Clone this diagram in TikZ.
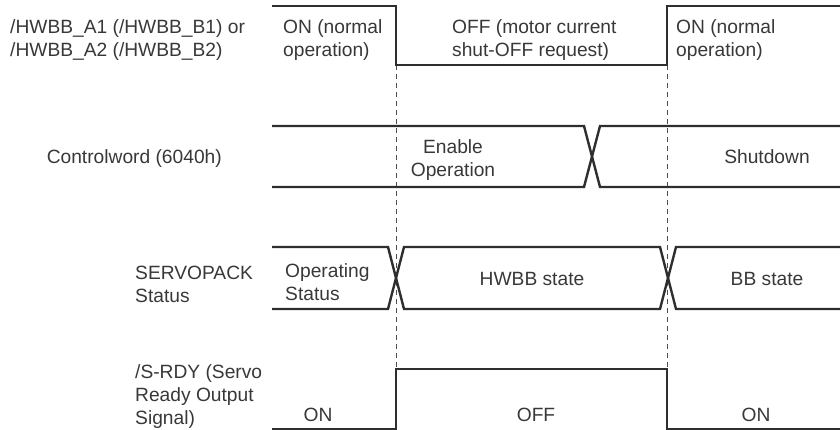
\documentclass[tikz,border=0pt]{standalone}
\usepackage{fontspec}
\setmainfont{Liberation Sans}
\definecolor{ink}{HTML}{2E2E2E}
\definecolor{txt}{HTML}{383838}
\begin{document}
\begin{tikzpicture}[x=1pt,y=-1pt,
  wave/.style={draw=ink,line width=2.4pt,line join=miter},
  guide/.style={draw=ink!85,line width=0.9pt,dash pattern=on 5pt off 4pt},
  lbl/.style={inner sep=0pt,font=\fontsize{19.2}{23}\selectfont,text=txt},
  lw/.style={lbl,anchor=base west},
  lc/.style={lbl,anchor=base},
  le/.style={lbl,anchor=base east}]
\useasboundingbox (0,0) rectangle (840,429);

% guide lines
\coordinate (d1t) at (396,65);
\coordinate (d1b) at (396,369);
\coordinate (d2t) at (667,65);
\coordinate (d2b) at (667,369);
\draw[guide] (d1t) -- (d1b);
\draw[guide] (d2t) -- (d2b);

% /HWBB waveform
\draw[wave] (272,6) -- (396,6) -- (396,65) -- (667,65) -- (667,6) -- (840,6);
% Controlword waveform
\draw[wave] (272,126) -- (584,126) -- (600,187) -- (840,187);
\draw[wave] (272,187) -- (584,187) -- (600,126) -- (840,126);
% SERVOPACK status waveform
\draw[wave] (272,247) -- (388,247) -- (404,309) -- (660,309) -- (676,247) -- (840,247);
\draw[wave] (272,309) -- (388,309) -- (404,247) -- (660,247) -- (676,309) -- (840,309);
% /S-RDY waveform
\draw[wave] (272,429.6) -- (396,429.6) -- (396,369) -- (667,369) -- (667,429.6) -- (840,429.6);

% row labels
\node[lw] (hw1) at (10,33) {/HWBB\_A1 (/HWBB\_B1) or};
\node[lw] (hw2) at (10,56) {/HWBB\_A2 (/HWBB\_B2)};
\node[le] (cw) at (222,163) {Controlword (6040h)};
\node[lw] (sp1) at (135,279) {SERVOPACK};
\node[lw] (sp2) at (135,302) {Status};
\node[lw] (rd1) at (135,378) {/S-RDY (Servo};
\node[lw] (rd2) at (135,401) {Ready Output};
\node[lw] (rd3) at (135,424) {Signal)};

% HWBB states
\node[lw] (on1a) at (283,33) {ON (normal};
\node[lw] (on1b) at (283,56) {operation)};
\node[lw] (offa) at (452,33) {OFF (motor current};
\node[lw] (offb) at (452,56) {shut-OFF request)};
\node[lw] (on2a) at (676,33) {ON (normal};
\node[lw] (on2b) at (676,56) {operation)};

% Controlword states
\node[lc] (en1) at (453,153) {Enable};
\node[lc] (en2) at (453,176) {Operation};
\node[lc] (sd) at (767,163) {Shutdown};

% SERVOPACK states
\node[lw] (op1) at (285,277) {Operating};
\node[lw] (op2) at (285,300) {Status};
\node[lc] (hs) at (532,285) {HWBB state};
\node[lc] (bs) at (767,285) {BB state};

% /S-RDY states
\node[lc] (ron1) at (318,421) {ON};
\node[lc] (roff) at (536,421) {OFF};
\node[lc] (ron2) at (756,421) {ON};
\end{tikzpicture}
\end{document}
